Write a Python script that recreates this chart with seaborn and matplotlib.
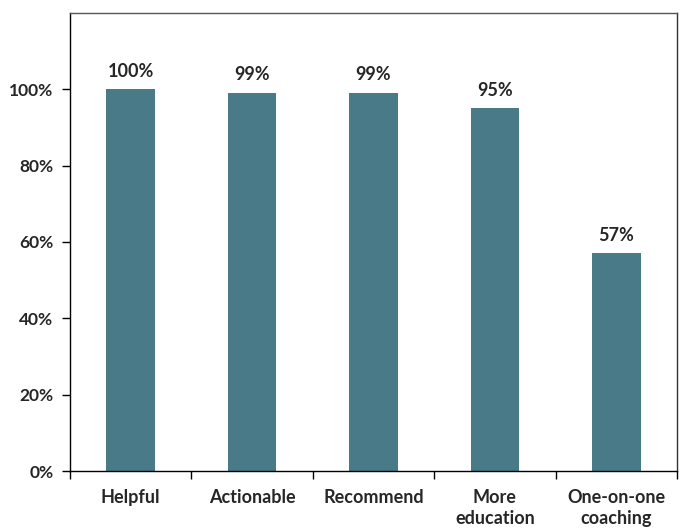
import matplotlib
matplotlib.use("Agg")
import matplotlib.pyplot as plt
import seaborn as sns
import pandas as pd
from matplotlib.ticker import FixedLocator

categories = ["Helpful", "Actionable", "Recommend", "More\neducation", "One-on-one\ncoaching"]
values = [100, 99, 99, 95, 57]
value_labels = ["100%", "99%", "99%", "95%", "57%"]
ytick_vals = [0, 20, 40, 60, 80, 100]
ytick_labels = ["0%", "20%", "40%", "60%", "80%", "100%"]

sns.set_theme(style="white")
plt.rcParams['font.family'] = ['Lato', 'DejaVu Sans']

df = pd.DataFrame({"cat": categories, "val": values})

fig = plt.figure(figsize=(6.82, 5.31), dpi=100)
ax = fig.add_axes([70/682, 1-471/531, 607/682, 458/531])
sns.barplot(data=df, x="cat", y="val", color="#497a88", width=0.4, ax=ax,
            saturation=1, edgecolor="none")

ax.set_ylim(0, 120)
ax.set_xlim(-0.5, len(categories) - 0.5)
ax.set_yticks(ytick_vals)
ax.set_yticklabels(ytick_labels, fontsize=12.5, fontweight="bold")
ax.set_xticks(range(len(categories)))
ax.set_xticklabels(categories, fontsize=13, fontweight="bold", linespacing=1.25)
ax.xaxis.set_minor_locator(FixedLocator([i - 0.5 for i in range(len(categories) + 1)]))
ax.tick_params(axis="x", which="major", length=0, pad=13)
ax.tick_params(axis="x", which="minor", length=6, width=1, color="black", direction="out", bottom=True)
ax.tick_params(axis="y", length=6, width=1, color="black", direction="out", left=True, pad=6)
ax.set_xlabel("")
ax.set_ylabel("")

for c in ax.containers:
    ax.bar_label(c, labels=value_labels, padding=7, fontsize=13, fontweight="bold")

for s in ["left", "bottom"]:
    ax.spines[s].set_color("black")
    ax.spines[s].set_linewidth(1)
ax.spines["top"].set_color("#555555")
ax.spines["right"].set_color("#333333")
ax.spines["top"].set_linewidth(1)
ax.spines["right"].set_linewidth(1)
for s in ax.spines.values():
    s.set_visible(True)

fig.savefig("out.png", dpi=100)
